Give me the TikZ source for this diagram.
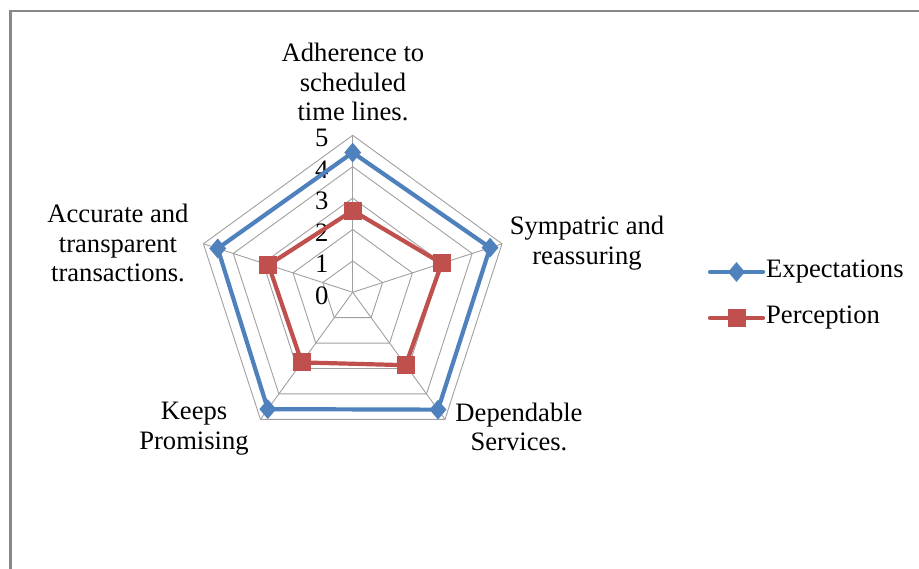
\documentclass[tikz,border=0pt]{standalone}
\usepackage{fontspec}
\setmainfont{Liberation Serif}
\usetikzlibrary{shapes.geometric,calc}
\definecolor{serblue}{HTML}{4F81BD}
\definecolor{serred}{HTML}{C0504D}
\definecolor{gridgray}{HTML}{A0A0A0}
\definecolor{framegray}{HTML}{888888}
\tikzset{
  lbl/.style={align=center, inner sep=0pt, font=\fontsize{26.6}{29.8}\selectfont},
  gridline/.style={draw=gridgray, line width=0.9pt},
  bluemark/.style={diamond, fill=serblue, draw=none, minimum width=17pt, minimum height=20pt, inner sep=0pt},
  redmark/.style={rectangle, fill=serred, draw=none, minimum size=18pt, inner sep=0pt},
  blueline/.style={draw=serblue, line width=4.2pt, line join=round},
  redline/.style={draw=serred, line width=4.2pt, line join=round},
}
\begin{document}
\begin{tikzpicture}[x=1pt,y=1pt]
\useasboundingbox (0,0) rectangle (919,569);
% frame
\draw[framegray, line width=1.4pt] (10,558) -- (919,558);
\draw[framegray, line width=3pt] (10,558.7) -- (10,0);
% radar centre
\coordinate (c) at (352.7,276.7);
\def\unit{31.4}
% grid pentagons
\foreach \k in {1,...,5}{
  \draw[gridline] ($(c)+(90:\k*\unit)$) -- ($(c)+(18:\k*\unit)$) -- ($(c)+(-54:\k*\unit)$) -- ($(c)+(-126:\k*\unit)$) -- ($(c)+(162:\k*\unit)$) -- cycle;
}
\foreach \a/\n in {90/a1,18/a2,-54/a3,-126/a4,162/a5}{
  \coordinate (\n) at ($(c)+(\a:5*\unit)$);
  \draw[gridline] (c) -- (\n);
}
% scale labels
\foreach \k in {0,...,5}{
  \node[lbl, anchor=east] (s\k) at ($(c)+(-24,\k*\unit-3)$) {\k};
}
% data coordinates
\coordinate (e1) at ($(c)+(90:4.45*\unit)$);
\coordinate (e2) at ($(c)+(18:4.6*\unit)$);
\coordinate (e3) at ($(c)+(-54:4.62*\unit)$);
\coordinate (e4) at ($(c)+(-126:4.6*\unit)$);
\coordinate (e5) at ($(c)+(162:4.52*\unit)$);
\coordinate (p1) at ($(c)+(90:2.6*\unit)$);
\coordinate (p2) at ($(c)+(18:2.98*\unit)$);
\coordinate (p3) at ($(c)+(-54:2.87*\unit)$);
\coordinate (p4) at ($(c)+(-126:2.76*\unit)$);
\coordinate (p5) at ($(c)+(162:2.82*\unit)$);
\draw[blueline] (e1) -- (e2) -- (e3) -- (e4) -- (e5) -- cycle;
\draw[redline] (p1) -- (p2) -- (p3) -- (p4) -- (p5) -- cycle;
\foreach \i in {1,...,5}{
  \node[bluemark] (me\i) at (e\i) {};
  \node[redmark] (mp\i) at (p\i) {};
}
% category labels
\node[lbl] (l1) at (353,487) {Adherence to\\scheduled\\time lines.};
\node[lbl] (l2) at (587,326) {Sympatric and\\reassuring};
\node[lbl] (l3) at (118,326) {Accurate and\\transparent\\transactions.};
\node[lbl] (l4) at (194,140) {Keeps\\Promising};
\node[lbl] (l5) at (519,142) {Dependable\\Services.};
% legend
\coordinate (la1) at (710,297);
\coordinate (la2) at (763,297);
\coordinate (lb1) at (710,251);
\coordinate (lb2) at (763,251);
\draw[serblue, line width=4.2pt, line cap=round] (la1) -- (la2);
\node[bluemark] (lm1) at ($(la1)!0.5!(la2)$) {};
\draw[serred, line width=4.2pt, line cap=round] (lb1) -- (lb2);
\node[redmark] (lm2) at ($(lb1)!0.5!(lb2)$) {};
\node[lbl, anchor=west] (lt1) at (766,297) {Expectations};
\node[lbl, anchor=west] (lt2) at (766,251) {Perception};
\end{tikzpicture}
\end{document}
